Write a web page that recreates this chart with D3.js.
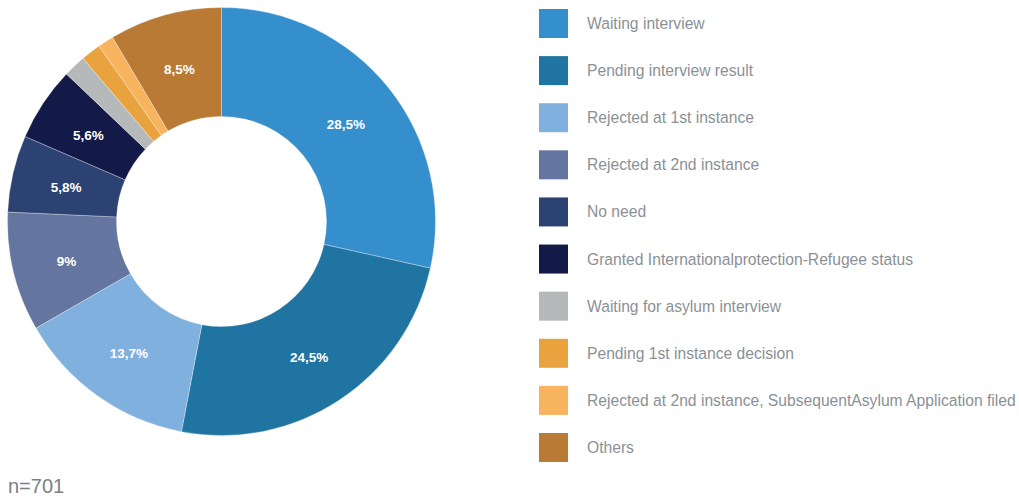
<!DOCTYPE html>
<html><head><meta charset="utf-8">
<script src="https://cdn.jsdelivr.net/npm/d3@7"></script>
<style>body{margin:0;background:#fff;}svg{display:block;font-family:"Liberation Sans",Arial,Helvetica,sans-serif;}</style>
</head><body>
<svg id="c" width="1019" height="497"></svg>
<script>
const categories = ["Waiting interview","Pending interview result","Rejected at 1st instance","Rejected at 2nd instance","No need","Granted Internationalprotection-Refugee status","Waiting for asylum interview","Pending 1st instance decision","Rejected at 2nd instance, SubsequentAsylum Application filed","Others"];
const values = [28.5,24.5,13.7,9,5.8,5.6,1.7,1.5,1.2,8.5];
const labels = ["28,5%","24,5%","13,7%","9%","5,8%","5,6%","","","","8,5%"];
const colors = ["#368fcd","#2074a2","#7fb0de","#64769f","#2c4272","#141a47","#b6b9ba","#e8a33e","#f8b35f","#b97a35"];
const note = "n=701";

const svg = d3.select("#c");
const cx = 221.5, cy = 221.5, R = 214, r = 105;
const data = categories.map((c,i)=>({c, v:values[i], l:labels[i], col:colors[i]}));
const pie = d3.pie().value(d=>d.v).sort(null);
const arc = d3.arc().innerRadius(r).outerRadius(R);
const g = svg.append("g").attr("transform",`translate(${cx},${cy})`);
const arcs = pie(data);
g.selectAll("path").data(arcs).join("path")
  .attr("d",arc).attr("fill",d=>d.data.col)
  .attr("stroke","rgba(255,255,255,0.6)").attr("stroke-width",0.5);
g.selectAll("text").data(arcs).join("text")
  .attr("transform",d=>`translate(${arc.centroid(d)})`)
  .attr("text-anchor","middle").attr("dy","0.5em")
  .attr("fill","#fff").attr("font-weight","bold").attr("font-size","13.5px")
  .text(d=>d.data.l);

const ly = d3.scalePoint().domain(categories).range([23.5, 447.5]);
const lg = svg.append("g");
const items = lg.selectAll("g").data(data).join("g").attr("transform",d=>`translate(539,${ly(d.c)})`);
items.append("rect").attr("x",0).attr("y",-14.5).attr("width",29).attr("height",29).attr("fill",d=>d.col);
items.append("text").attr("x",48).attr("dy","0.35em").attr("font-size","15.65px").attr("fill","#8a9196").text(d=>d.c);

svg.append("text").attr("x",8).attr("y",493).attr("font-size","20px").attr("fill","#7a8186").text(note);
</script>
</body></html>
